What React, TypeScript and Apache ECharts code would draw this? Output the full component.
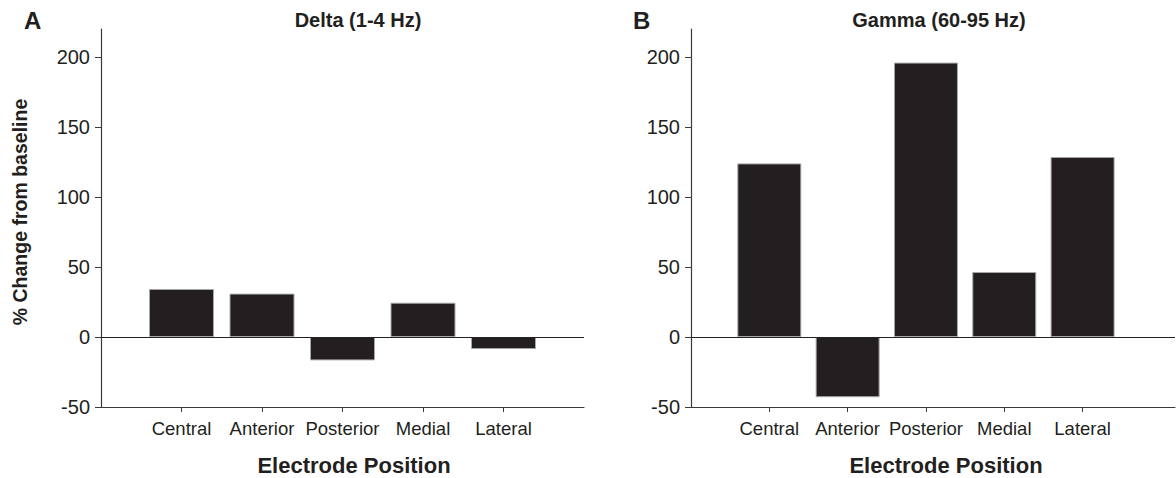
import React, { useEffect, useRef } from "react";
import * as echarts from "echarts";

const categories = ["Central", "Anterior", "Posterior", "Medial", "Lateral"];
const deltaValues = [34.3, 31, -16.7, 24.5, -8.6];
const gammaValues = [124, -43, 196, 46.4, 128.6];
const yTicks = [-50, 0, 50, 100, 150, 200];
const categoryPositions = [1, 2, 3, 4, 5];
const panelTitles = ["Delta (1-4 Hz)", "Gamma (60-95 Hz)"];
const panelLetters = ["A", "B"];
const xAxisTitle = "Electrode Position";
const yAxisTitle = "% Change from baseline";

const FONT = "'Liberation Sans', Arial, Helvetica, sans-serif";
const TEXT = "#231f20";
const AXIS = "#3a3a3a";

export default function App() {
  const ref = useRef<HTMLDivElement>(null);
  useEffect(() => {
    if (!ref.current) return;
    const chart = echarts.init(ref.current, null, { renderer: "svg" });
    const grids = [
      { left: 101, top: 29, width: 483, height: 378 },
      { left: 691, top: 29, width: 484, height: 378 },
    ];
    const xMax = [6, 6.18];
    const series = [deltaValues, gammaValues].map((vals, i) => ({
      type: "bar",
      xAxisIndex: i,
      yAxisIndex: i,
      barWidth: i === 0 ? 65 : 64,
      data: vals.map((v, j) => [categoryPositions[j], v]),
      itemStyle: { color: "#231f20", borderColor: "#a8a8a8", borderWidth: 1 },
      markLine: {
        silent: true,
        symbol: "none",
        label: { show: false },
        lineStyle: { color: "#222", width: 1, type: "solid" },
        data: [{ yAxis: 0 }],
      },
    }));
    const option: any = {
      animation: false,
      backgroundColor: "#fff",
      grid: grids,
      xAxis: grids.map((_, i) => ({
        type: "value",
        gridIndex: i,
        min: 0,
        max: xMax[i],
        interval: 1,
        splitLine: { show: false },
        axisLine: { onZero: false, lineStyle: { color: AXIS, width: 1.2 } },
        axisTick: { show: true, length: 5, customValues: categoryPositions, lineStyle: { color: AXIS } },
        axisLabel: {
          customValues: categoryPositions,
          margin: 12,
          fontSize: 18.5,
          fontFamily: FONT,
          color: TEXT,
          formatter: (v: number) => categories[Math.round(v) - 1] ?? "",
        },
      })),
      yAxis: grids.map((_, i) => ({
        type: "value",
        gridIndex: i,
        min: -50,
        max: 220,
        interval: 50,
        splitLine: { show: false },
        axisLine: { show: true, lineStyle: { color: AXIS, width: 1.2 } },
        axisTick: { show: true, length: 6, customValues: yTicks, lineStyle: { color: AXIS } },
        axisLabel: {
          customValues: yTicks,
          margin: 11,
          fontSize: 20,
          fontFamily: FONT,
          color: TEXT,
        },
      })),
      series,
      graphic: [
        { type: "text", left: 24, top: 8, style: { text: panelLetters[0], font: `bold 24px ${FONT}`, fill: TEXT } },
        { type: "text", left: 633, top: 8, style: { text: panelLetters[1], font: `bold 24px ${FONT}`, fill: TEXT } },
        { type: "text", x: 358, y: 20, style: { text: panelTitles[0], font: `bold 20px ${FONT}`, fill: TEXT, align: "center", verticalAlign: "middle" } },
        { type: "text", x: 939, y: 20, style: { text: panelTitles[1], font: `bold 20px ${FONT}`, fill: TEXT, align: "center", verticalAlign: "middle" } },
        { type: "text", x: 354, y: 465, style: { text: xAxisTitle, font: `bold 22px ${FONT}`, fill: TEXT, align: "center", verticalAlign: "middle" } },
        { type: "text", x: 946, y: 465, style: { text: xAxisTitle, font: `bold 22px ${FONT}`, fill: TEXT, align: "center", verticalAlign: "middle" } },
        { type: "text", x: 20, y: 212, rotation: Math.PI / 2, style: { text: yAxisTitle, font: `bold 19.5px ${FONT}`, fill: TEXT, align: "center", verticalAlign: "middle" } },
      ],
    };
    chart.setOption(option);
    return () => chart.dispose();
  }, []);
  return (
    <div
      ref={ref}
      style={{ position: "fixed", left: 0, top: 0, width: 1176, height: 478 }}
    />
  );
}
